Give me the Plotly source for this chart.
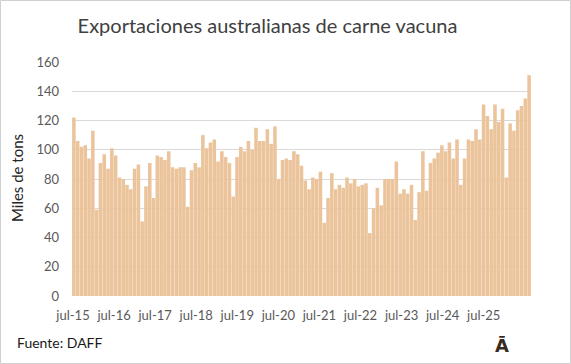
import plotly.graph_objects as go

# ---- data ----
mes_nombres = ["ene", "feb", "mar", "abr", "may", "jun", "jul", "ago", "sep", "oct", "nov", "dic"]
meses = [f"{mes_nombres[(6 + i) % 12]}-{15 + (6 + i) // 12}" for i in range(121)]  # jul-15 .. jul-25

exportaciones = [
    122, 106, 102, 103, 94, 113, 59, 91, 97, 87, 101, 96,      # jul-15 .. jun-16
    81, 80, 76, 73, 87, 90, 51, 75, 91, 67, 96, 95,            # jul-16 .. jun-17
    93, 99, 88, 87, 88, 88, 61, 86, 91, 88, 110, 101,          # jul-17 .. jun-18
    105, 107, 92, 99, 95, 91, 68, 95, 102, 99, 106, 100,       # jul-18 .. jun-19
    115, 106, 106, 114, 104, 116, 80, 93, 94, 93, 99, 97,      # jul-19 .. jun-20
    89, 79, 73, 81, 80, 85, 50, 67, 84, 73, 76, 74,            # jul-20 .. jun-21
    81, 77, 80, 75, 76, 77, 43, 60, 74, 62, 80, 80,            # jul-21 .. jun-22
    80, 92, 70, 73, 70, 76, 52, 71, 99, 72, 91, 94,            # jul-22 .. jun-23
    98, 103, 99, 105, 94, 107, 76, 94, 107, 106, 114, 107,     # jul-23 .. jun-24
    131, 123, 114, 131, 119, 128, 81, 118, 113, 127, 130, 135, # jul-24 .. jun-25
    151,                                                       # jul-25
]

tick_labels = ["jul-15", "jul-16", "jul-17", "jul-18", "jul-19", "jul-20",
               "jul-21", "jul-22", "jul-23", "jul-24", "jul-25"]
y_ticks = [0, 20, 40, 60, 80, 100, 120, 140, 160]

# ---- layout geometry (pixels) ----
W, H = 571, 364
ML, MR, MT, MB = 72, 40, 62, 68
PW, PH = W - ML - MR, H - MT - MB


def px_x(px):
    return (px - ML) / PW


def px_y(py):
    return (H - MB - py) / PH


FONT = "Lato"
TXT = "#595959"

fig = go.Figure()
fig.add_trace(go.Bar(
    x=meses, y=exportaciones,
    marker=dict(color="#EBC49C", line=dict(width=0)),
    showlegend=False,
))
# helper trace on the label axis (overlays the main x axis)
fig.add_trace(go.Scatter(x=[], y=[], xaxis="x2", yaxis="y", showlegend=False, hoverinfo="skip"))

# label axis: jul-15 near the left edge, jul-25 at ~484 px (Excel-style compressed labels)
lab0, lab_last = 73.0, 483.7
step = (lab_last - lab0) / (len(tick_labels) - 1)
r0 = -(lab0 - ML) / step
r1 = r0 + PW / step

fig.update_layout(
    width=W, height=H,
    margin=dict(l=ML, r=MR, t=MT, b=MB, pad=0, autoexpand=False),
    paper_bgcolor="white", plot_bgcolor="white",
    bargap=0.06,
    font=dict(family=FONT, color=TXT),
    title=dict(
        text="Exportaciones australianas de carne vacuna",
        x=267.5 / W, xanchor="center", xref="container",
        y=1 - 26 / H, yanchor="middle", yref="container",
        font=dict(family=FONT, size=20, color="#404040"),
    ),
    xaxis=dict(
        range=[-0.5, len(meses) - 0.5],
        showticklabels=False, showgrid=False, zeroline=False,
        showline=False, ticks="", fixedrange=True,
    ),
    yaxis=dict(
        range=[0, 160], tickvals=y_ticks,
        showgrid=True, gridcolor="#D9D9D9", gridwidth=1,
        zeroline=False, showline=False, ticks="",
        tickfont=dict(size=13, color=TXT, family=FONT),
        ticklabelstandoff=12, automargin=False, fixedrange=True,
    ),
    xaxis2=dict(
        overlaying="x", anchor="y", side="bottom",
        range=[r0, r1],
        tickvals=list(range(len(tick_labels))), ticktext=tick_labels,
        showgrid=False, zeroline=False, showline=False, ticks="",
        tickfont=dict(size=13, color=TXT, family=FONT),
        ticklabelstandoff=10, automargin=False, fixedrange=True,
    ),
    annotations=[
        dict(text="Miles de tons", xref="paper", yref="paper",
             x=px_x(17), y=px_y(178), xanchor="center", yanchor="middle",
             textangle=-90, showarrow=False,
             font=dict(family=FONT, size=15, color="#262626")),
        dict(text="Fuente: DAFF", xref="paper", yref="paper",
             x=px_x(15), y=px_y(342), xanchor="left", yanchor="middle",
             showarrow=False,
             font=dict(family=FONT, size=14, color="#1a1a1a")),
        dict(text="<b>Ā</b>", xref="paper", yref="paper",
             x=px_x(501.5), y=px_y(345), xanchor="center", yanchor="middle",
             showarrow=False,
             font=dict(family="DejaVu Sans", size=18, color="#3a2a1e")),
    ],
    shapes=[
        dict(type="rect", xref="paper", yref="paper",
             x0=px_x(0.5), x1=px_x(W - 0.5), y0=px_y(H - 0.5), y1=px_y(0.5),
             line=dict(color="#D0D0D0", width=1), fillcolor="rgba(0,0,0,0)",
             layer="below"),
    ],
)

fig.write_html("out.html", config={"displayModeBar": False},
               post_script="document.body.style.margin='0px';")
